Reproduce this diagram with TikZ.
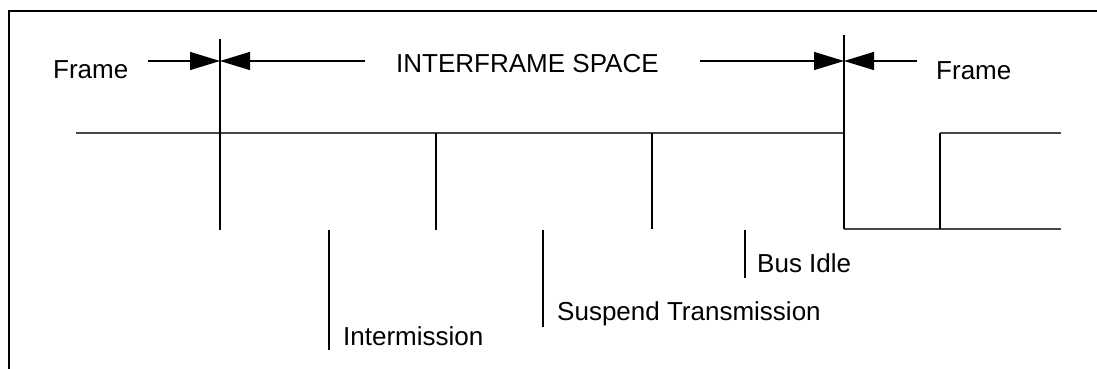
\documentclass[tikz,border=0pt]{standalone}
\usepackage{fontspec}
\setmainfont{Liberation Sans}
\usetikzlibrary{arrows.meta}
\begin{document}
\begin{tikzpicture}[x=1pt,y=-1pt,
  lbl/.style={anchor=base west, inner sep=0pt, font=\fontsize{26}{30}\selectfont},
  tick/.style={line width=1.3pt},
  bus/.style={line width=2pt, draw=black!72},
  dimarrow/.style={line width=1.3pt, -{Triangle[length=30pt,width=18pt]}},
  frameborder/.style={line width=2.6pt}]
\useasboundingbox (0,0) rectangle (1097,369);
% border (top and left)
\coordinate (bl) at (9,372);
\coordinate (tl) at (9,11);
\coordinate (tr) at (1100,11);
\draw[frameborder] (bl) -- (tl) -- (tr);

% labels
\node[lbl] (frameL) at (53,78) {Frame};
\node[lbl] (ifs) at (396,72) {INTERFRAME SPACE};
\node[lbl] (frameR) at (936,80) {Frame};
\node[lbl] (inter) at (343,345) {Intermission};
\node[lbl] (susp) at (557,320) {Suspend Transmission};
\node[lbl] (idle) at (757,272) {Bus Idle};

% dimension arrows
\coordinate (a1s) at (148,61);
\coordinate (a1e) at (220,61);
\coordinate (a2s) at (365,61);
\coordinate (a3s) at (700,61);
\coordinate (a3e) at (844,61);
\coordinate (a4s) at (917,61);
\draw[dimarrow] (a1s) -- (a1e);
\draw[dimarrow] (a2s) -- (a1e);
\draw[dimarrow] (a3s) -- (a3e);
\draw[dimarrow] (a4s) -- (a3e);

% bus levels
\coordinate (b0) at (76,133);
\coordinate (b1) at (844,133);
\coordinate (b2) at (844,229);
\coordinate (b3) at (1061,229);
\coordinate (b4) at (940,229);
\coordinate (b5) at (940,133);
\coordinate (b6) at (1061,133);
\draw[bus] (b0) -- (b1);
\draw[bus] (b2) -- (b3);
\draw[bus] (b5) -- (b6);

% vertical ticks
\coordinate (v1t) at (220,39);  \coordinate (v1b) at (220,230);
\coordinate (v2t) at (436,133); \coordinate (v2b) at (436,230);
\coordinate (v3t) at (652,133); \coordinate (v3b) at (652,229);
\coordinate (v4t) at (844,35);
\coordinate (w1t) at (329,230); \coordinate (w1b) at (329,350);
\coordinate (w2t) at (543,230); \coordinate (w2b) at (543,327);
\coordinate (w3t) at (745,230); \coordinate (w3b) at (745,278);
\draw[tick] (v1t) -- (v1b);
\draw[tick] (v2t) -- (v2b);
\draw[tick] (v3t) -- (v3b);
\draw[tick] (v4t) -- (b2);
\draw[tick] (b5) -- (b4);
\draw[tick] (w1t) -- (w1b);
\draw[tick] (w2t) -- (w2b);
\draw[tick] (w3t) -- (w3b);
\end{tikzpicture}
\end{document}
